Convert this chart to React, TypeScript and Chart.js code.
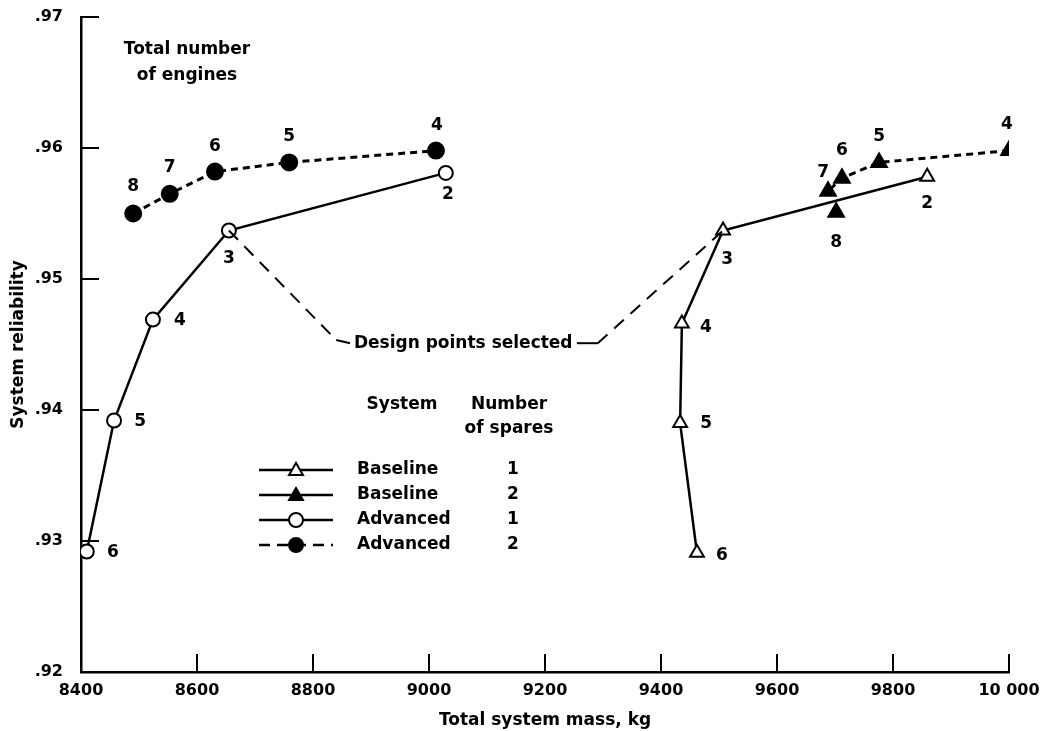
import React, { useEffect, useRef } from 'react';
import { Chart, registerables } from 'chart.js';

Chart.register(...registerables);

// ---- data ----
const xTicks = [8400, 8600, 8800, 9000, 9200, 9400, 9600, 9800, 10000];
const yTicks = [0.92, 0.93, 0.94, 0.95, 0.96, 0.97];

const advanced1Mass = [8410, 8457, 8524, 8655, 9029];
const advanced1Rel = [0.9292, 0.9392, 0.9469, 0.9537, 0.9581];
const advanced1Engines = [6, 5, 4, 3, 2];

const advanced2Mass = [8490, 8553, 8631, 8759, 9012];
const advanced2Rel = [0.955, 0.9565, 0.9582, 0.9589, 0.9598];
const advanced2Engines = [8, 7, 6, 5, 4];

const baseline1Mass = [9462, 9433, 9436, 9507, 9859];
const baseline1Rel = [0.9291, 0.939, 0.9466, 0.9537, 0.9578];
const baseline1Engines = [6, 5, 4, 3, 2];

const baseline2Mass = [10000, 9776, 9712, 9688, 9702];
const baseline2Rel = [0.9598, 0.9589, 0.9577, 0.9567, 0.9551];
const baseline2Engines = [4, 5, 6, 7, 8];
const baseline2Joined = [true, true, true, true, false];

// leader lines for "Design points selected"
const leaderLeftMass = [8655, 8840, 8864];
const leaderLeftRel = [0.9537, 0.94534, 0.9451];
const leaderRightMass = [9255, 9291, 9507];
const leaderRightRel = [0.9451, 0.9451, 0.9537];
const designLabelMass = 9059;
const designLabelRel = 0.9451;
const designLabel = 'Design points selected';

const legendSystems = ['Baseline', 'Baseline', 'Advanced', 'Advanced'];
const legendSpares = ['1', '2', '1', '2'];

const xTitle = 'Total system mass, kg';
const yTitle = 'System reliability';

// ---- styling (label offsets in px) ----
const advanced1Offsets = [[26, 1], [26, 1], [27, 1], [0, 28], [2, 22]];
const advanced2Offsets = [[0, -27], [0, -26], [0, -25], [0, -26], [1, -25]];
const baseline1Offsets = [[25, 3], [26, 0], [24, 4], [4, 29], [0, 27]];
const baseline2Offsets = [[-2, -26], [0, -26], [0, -28], [-5, -19], [0, 30]];

const FONT = "'DejaVu Sans', sans-serif";

const pts = (xs: number[], ys: number[]) => xs.map((x, i) => ({ x, y: ys[i] }));

function drawTri(ctx: CanvasRenderingContext2D, cx: number, cy: number, r: number, filled: boolean) {
  ctx.beginPath();
  for (let k = 0; k < 3; k++) {
    const a = (k * 2 * Math.PI) / 3;
    const px = cx + Math.sin(a) * r;
    const py = cy - Math.cos(a) * r;
    if (k === 0) ctx.moveTo(px, py);
    else ctx.lineTo(px, py);
  }
  ctx.closePath();
  ctx.fillStyle = filled ? '#000' : '#fff';
  ctx.fill();
  ctx.lineWidth = 2;
  ctx.strokeStyle = '#000';
  ctx.stroke();
}

function drawCirc(ctx: CanvasRenderingContext2D, cx: number, cy: number, r: number, filled: boolean) {
  ctx.beginPath();
  ctx.arc(cx, cy, r, 0, Math.PI * 2);
  ctx.fillStyle = filled ? '#000' : '#fff';
  ctx.fill();
  ctx.lineWidth = 2;
  ctx.strokeStyle = '#000';
  ctx.stroke();
}

const overlayPlugin = {
  id: 'overlay',
  afterDraw(chart: any) {
    const { ctx, chartArea } = chart;
    const x = chart.scales.x;
    const y = chart.scales.y;
    ctx.save();
    // inward tick marks
    ctx.strokeStyle = '#000';
    ctx.lineWidth = 2;
    xTicks.forEach((v) => {
      const px = x.getPixelForValue(v);
      ctx.beginPath();
      ctx.moveTo(px, chartArea.bottom);
      ctx.lineTo(px, chartArea.bottom - 18);
      ctx.stroke();
    });
    yTicks.forEach((v) => {
      const py = y.getPixelForValue(v);
      ctx.beginPath();
      ctx.moveTo(chartArea.left, py);
      ctx.lineTo(chartArea.left + 18, py);
      ctx.stroke();
    });

    ctx.fillStyle = '#000';
    ctx.font = `bold 17px ${FONT}`;
    ctx.textAlign = 'center';
    ctx.textBaseline = 'middle';

    // point labels
    chart.data.datasets.forEach((ds: any, i: number) => {
      if (!ds.engines) return;
      const meta = chart.getDatasetMeta(i);
      meta.data.forEach((el: any, j: number) => {
        const off = ds.labelOffsets[j];
        ctx.fillText(String(ds.engines[j]), el.x + off[0], el.y + off[1]);
      });
    });

    // design label
    ctx.fillText(designLabel, x.getPixelForValue(designLabelMass), y.getPixelForValue(designLabelRel));

    // header text
    const l = chartArea.left;
    const t = chartArea.top;
    ctx.fillText('Total number', l + 106, t + 33);
    ctx.fillText('of engines', l + 106, t + 59);

    // legend
    ctx.fillText('System', l + 321, t + 388);
    ctx.fillText('Number', l + 428, t + 388);
    ctx.fillText('of spares', l + 428, t + 412);
    const rows = [453, 478, 503, 528];
    rows.forEach((ry, i) => {
      const yy = t + ry;
      ctx.strokeStyle = '#000';
      ctx.lineWidth = 2.5;
      ctx.setLineDash(i === 3 ? [11, 7] : []);
      ctx.beginPath();
      ctx.moveTo(l + 178, yy);
      ctx.lineTo(l + 252, yy);
      ctx.stroke();
      ctx.setLineDash([]);
      if (i < 2) drawTri(ctx, l + 215, yy + 1, 8, i === 1);
      else drawCirc(ctx, l + 215, yy, 7, i === 3);
      ctx.fillStyle = '#000';
      ctx.textAlign = 'left';
      ctx.fillText(legendSystems[i], l + 276, yy);
      ctx.textAlign = 'center';
      ctx.fillText(legendSpares[i], l + 432, yy);
    });
    ctx.restore();
  },
};

export default function App() {
  const ref = useRef<HTMLCanvasElement>(null);

  useEffect(() => {
    if (!ref.current) return;
    const tickFont = { family: FONT, size: 16, weight: 'bold' as const };
    const titleFont = { family: FONT, size: 17, weight: 'bold' as const };
    const chart = new Chart(ref.current, {
      type: 'scatter',
      data: {
        datasets: [
          {
            data: pts(leaderLeftMass, leaderLeftRel),
            showLine: true,
            borderColor: '#000',
            borderWidth: 2,
            pointRadius: 0,
            segment: { borderDash: (c: any) => (c.p0DataIndex === 0 ? [13, 9] : []) },
          } as any,
          {
            data: pts(leaderRightMass, leaderRightRel),
            showLine: true,
            borderColor: '#000',
            borderWidth: 2,
            pointRadius: 0,
            segment: { borderDash: (c: any) => (c.p0DataIndex === 1 ? [13, 9] : []) },
          } as any,
          {
            data: pts(advanced2Mass, advanced2Rel),
            showLine: true,
            borderColor: '#000',
            borderWidth: 3,
            borderDash: [7, 5],
            pointStyle: 'circle',
            pointRadius: 7.5,
            pointBackgroundColor: '#000',
            pointBorderColor: '#000',
            engines: advanced2Engines,
            labelOffsets: advanced2Offsets,
          } as any,
          {
            data: pts(advanced1Mass, advanced1Rel),
            showLine: true,
            borderColor: '#000',
            borderWidth: 2.5,
            pointStyle: 'circle',
            pointRadius: 7,
            pointBorderWidth: 2,
            pointBackgroundColor: '#fff',
            pointBorderColor: '#000',
            engines: advanced1Engines,
            labelOffsets: advanced1Offsets,
          } as any,
          {
            data: pts(baseline2Mass, baseline2Rel),
            showLine: true,
            borderColor: '#000',
            borderWidth: 3,
            borderDash: [7, 5],
            segment: {
              borderColor: (c: any) => (baseline2Joined[c.p1DataIndex] ? '#000' : 'rgba(0,0,0,0)'),
            },
            pointStyle: 'triangle',
            pointRadius: 8,
            pointBackgroundColor: '#000',
            pointBorderColor: '#000',
            engines: baseline2Engines,
            labelOffsets: baseline2Offsets,
          } as any,
          {
            data: pts(baseline1Mass, baseline1Rel),
            showLine: true,
            borderColor: '#000',
            borderWidth: 2.5,
            pointStyle: 'triangle',
            pointRadius: 8,
            pointBorderWidth: 2,
            pointBackgroundColor: '#fff',
            pointBorderColor: '#000',
            engines: baseline1Engines,
            labelOffsets: baseline1Offsets,
          } as any,
        ],
      },
      options: {
        animation: false,
        responsive: true,
        maintainAspectRatio: false,
        layout: { padding: { top: 17, right: 33, bottom: 0, left: 0 } },
        plugins: { legend: { display: false }, tooltip: { enabled: false } },
        scales: {
          x: {
            type: 'linear',
            min: 8400,
            max: 10000,
            grid: { display: false, drawTicks: false },
            border: { display: true, color: '#000', width: 2.5 },
            afterBuildTicks: (s: any) => {
              s.ticks = xTicks.map((v) => ({ value: v }));
            },
            afterFit: (s: any) => {
              s.height = 59;
              s.paddingLeft = 0;
              s.paddingRight = 0;
            },
            ticks: {
              color: '#000',
              font: tickFont,
              padding: 9,
              maxRotation: 0,
              autoSkip: false,
              callback: (v: any) => (Number(v) >= 10000 ? '10 000' : String(v)),
            },
            title: { display: true, text: xTitle, color: '#000', font: titleFont, padding: { top: 3, bottom: 0 } },
          },
          y: {
            type: 'linear',
            min: 0.92,
            max: 0.97,
            grid: { display: false, drawTicks: false },
            border: { display: true, color: '#000', width: 2.5 },
            afterBuildTicks: (s: any) => {
              s.ticks = yTicks.map((v) => ({ value: v }));
            },
            afterFit: (s: any) => {
              s.width = 81;
              s.paddingTop = 0;
              s.paddingBottom = 0;
            },
            ticks: {
              color: '#000',
              font: tickFont,
              padding: 18,
              autoSkip: false,
              callback: (v: any) => Number(v).toFixed(2).replace(/^0/, ''),
            },
            title: { display: true, text: yTitle, color: '#000', font: titleFont, padding: { top: 8, bottom: 0 } },
          },
        },
      } as any,
      plugins: [overlayPlugin],
    });
    return () => chart.destroy();
  }, []);

  return (
    <div style={{ position: 'fixed', left: 0, top: 0, width: 1042, height: 731, background: '#fff' }}>
      <canvas ref={ref} />
    </div>
  );
}
